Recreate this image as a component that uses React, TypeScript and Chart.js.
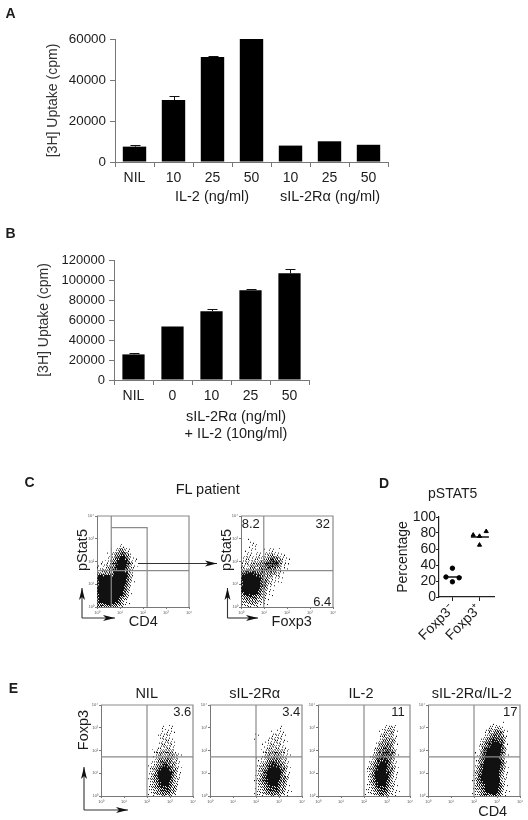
import React, { useEffect, useRef } from "react";
import { Chart, registerables } from "chart.js";

Chart.register(...registerables);
Chart.defaults.font.family = "'Liberation Sans', Arial, sans-serif";
Chart.defaults.color = "#222";

// ---- Panel A ----
const categoriesA = ["NIL", "10", "25", "50", "10", "25", "50"];
const meansA = [7500, 30200, 51200, 60000, 8000, 10100, 8400];
const upperA = [8400, 32000, 51800, 60000, 8000, 10100, 8400];
const ticksA = [0, 20000, 40000, 60000];

// ---- Panel B ----
const categoriesB = ["NIL", "0", "10", "25", "50"];
const meansB = [25600, 53500, 68800, 89800, 106700];
const upperB = [26900, 53500, 70800, 90800, 110700];
const ticksB = [0, 20000, 40000, 60000, 80000, 100000, 120000];

// ---- Panel D ----
const circlesDx = [0.76, 1, 1, 1.25];
const circlesDy = [25, 36, 19, 24];
const trianglesDx = [1.775, 2.01, 2.26, 2.01];
const trianglesDy = [77.5, 76, 82, 65];
const mediansD = [25, 75];
const categoriesD = ["Foxp3\u207B", "Foxp3\u207A"];

// ---- Density of events (0 none .. 9 solid) ----
const cloudGatedCD4 = [
  "", "", "", "", "", "", "",
  ".....11", "....1342", "...136741", "..1148962", ".112599721", "1123699731", "2234799731",
  "444589972", "999999972", "999999961", "999999961", "999999961", "999999841", "99999852",
  "89999631", "57886421",
];
const cloudGatedFoxp3 = [
  "", "", "", "", "", "",
  "..1", "..11...1", ".11.1.1111", ".1111122211", "122222355311", "122234578521", "223345677421",
  "33445566531", "68876554321", "9999854321", "9999964211", "999996321", "99998521", "79997421",
  "3566431", "2444321", "133321",
];
const cloudNil = [
  "", "", "", "", "",
  "...............111", "...............111", "..............1221", "..............1221",
  "..............12221", "..............12321", ".............123321", ".............1333331",
  ".............1344431", "............12466431", "............13688631", "............24799741",
  "............25899841", "............25899841", "............24799731", "............2468863",
  "............1357753", "............1345542",
];
const cloudSol = [
  "", "", "", "", "",
  ".................1", "...............1.11", "...........1...1221", "...........1..12221",
  ".............122221", ".............123321", ".............1233321", ".............1344321",
  "............12455421", "............13577531", "............24688641", "...........125899851",
  "...........136899851", "...........136899751", "...........135899741", "...........125788631",
  "...........124677531", "...........123555421",
];
const cloudIl2 = [
  "", "", "", "", "",
  "................1221", "................2331", "...............13331", "...............14441",
  "..............134541", "..............145641", "..............256651", ".............1366651",
  ".............2477651", ".............3688741", "............13699741", "............14799741",
  "............14899741", "............14899731", "............14799731", "............13688631",
  "............13577521", "............12466421",
];
const cloudBoth = [
  "", "", "", "",
  "...................1", "...............1221", "..............134531", "..............145651",
  ".............1367751", ".............2578871", ".............3689981", ".............4799971",
  "............15899971", "............15899961", "............26999961", "............37999951",
  "............47999951", "...........158999941", "...........158999941", "...........157999931",
  "...........147899931", "...........136899831", "...........125788721",
];

// ---- Quadrant gates, in decades of fluorescence ----
const gateCD4X = 0.62;
const gateCD4RectX = 2.18;
const gateCD4RectY = 3.49;
const gateCY = 1.6;
const gateFoxp3X = 0.99;
const gateEX = 2;
const gateEY = 1.72;

const INK = "#1c1c1c";
const AXIS = "#777";
const LOG_MAX = 4;
const CELLS = 23;
const CELL_PX = 4;

function densityAt(rows: string[], c: number, r: number) {
  if (r < 0 || c < 0 || r >= rows.length) return 0;
  const ch = rows[r][c];
  return ch === undefined || ch === "." ? 0 : Number(ch);
}

const frac = (v: number) => v - Math.floor(v);

// one small sprite of fine stipple per grid cell: a fixed dither texture shaded by the cell densities
function cellSprite(rows: string[], c: number, r: number) {
  const sprite = document.createElement("canvas");
  sprite.width = CELL_PX;
  sprite.height = CELL_PX;
  const g = sprite.getContext("2d")!;
  g.fillStyle = "#111";
  for (let j = 0; j < CELL_PX; j++) {
    for (let i = 0; i < CELL_PX; i++) {
      const u = (i + 0.5) / CELL_PX - 0.5;
      const v = (j + 0.5) / CELL_PX - 0.5;
      const c0 = c + Math.floor(u);
      const r0 = r + Math.floor(v);
      const fu = u - Math.floor(u);
      const fv = v - Math.floor(v);
      const d =
        densityAt(rows, c0, r0) * (1 - fu) * (1 - fv) +
        densityAt(rows, c0 + 1, r0) * fu * (1 - fv) +
        densityAt(rows, c0, r0 + 1) * (1 - fu) * fv +
        densityAt(rows, c0 + 1, r0 + 1) * fu * fv;
      const px = c * CELL_PX + i;
      const py = r * CELL_PX + j;
      const t = frac(52.9829189 * frac(0.06711056 * px + 0.00583715 * py));
      const on = d >= 8 ? 1 : Math.pow(d / 9, 1.05);
      if (t < on) g.fillRect(i, j, 1, 1);
    }
  }
  return sprite;
}

function cellsOf(rows: string[]) {
  const out: { x: number; y: number; sprite: HTMLCanvasElement }[] = [];
  for (let r = 0; r < CELLS; r++) {
    for (let c = 0; c < CELLS; c++) {
      let near = 0;
      for (let a = -1; a <= 1; a++) for (let b = -1; b <= 1; b++) near += densityAt(rows, c + a, r + b);
      if (near > 0) {
        out.push({
          x: ((c + 0.5) / CELLS) * LOG_MAX,
          y: LOG_MAX - ((r + 0.5) / CELLS) * LOG_MAX,
          sprite: cellSprite(rows, c, r),
        });
      }
    }
  }
  return out;
}

type Box = { left: number; top: number; width: number; height: number; pl: number; pt: number; pb: number; pr: number; soft?: boolean };

const errorBars = (upper: number[]) => ({
  id: "errorBars",
  afterDatasetsDraw(chart: any) {
    const { ctx, scales } = chart;
    ctx.save();
    ctx.strokeStyle = "#111";
    ctx.lineWidth = 1;
    upper.forEach((u, i) => {
      const mean = chart.data.datasets[0].data[i];
      if (u <= mean) return;
      const x = Math.round(scales.x.getPixelForValue(i)) + 0.5;
      const y0 = scales.y.getPixelForValue(mean);
      const y1 = Math.round(scales.y.getPixelForValue(u)) + 0.5;
      ctx.beginPath();
      ctx.moveTo(x, y0);
      ctx.lineTo(x, y1);
      ctx.moveTo(x - 5, y1);
      ctx.lineTo(x + 5, y1);
      ctx.stroke();
    });
    ctx.restore();
  },
});

function barConfig(labels: string[], means: number[], upper: number[], ticks: number[], barFrac: number, tickFont: number, box: Box) {
  return {
    type: "bar",
    data: {
      labels,
      datasets: [{ data: means, backgroundColor: "#000", barPercentage: barFrac, categoryPercentage: 1 }],
    },
    plugins: [errorBars(upper)],
    options: {
      animation: false,
      responsive: false,
      events: [],
      layout: { padding: { top: box.pt, right: box.pr, left: 0, bottom: 0 } },
      plugins: { legend: { display: false }, tooltip: { enabled: false } },
      scales: {
        x: {
          afterFit: (s: any) => { s.height = box.pb; },
          grid: { offset: true, drawOnChartArea: false, tickLength: 5, color: AXIS },
          border: { color: AXIS },
          ticks: { font: { size: 14 }, padding: 3, color: INK, maxRotation: 0, autoSkip: false },
        },
        y: {
          min: ticks[0],
          max: ticks[ticks.length - 1],
          afterFit: (s: any) => { s.width = box.pl; },
          grid: { drawOnChartArea: false, tickLength: 5, color: AXIS },
          border: { color: AXIS },
          title: { display: true, text: "[3H] Uptake (cpm)", font: { size: 14 }, color: "#333", padding: 0 },
          ticks: { font: { size: tickFont }, padding: 4, color: INK, stepSize: ticks[1] - ticks[0], autoSkip: false, callback: (v: any) => String(v) },
        },
      },
    },
  };
}

function dotConfig(rows: string[], gates: { x: number; y: number }[][], box: Box) {
  const sup = ["\u2070", "\u00B9", "\u00B2", "\u00B3", "\u2074"];
  const frame = [{ x: 0, y: LOG_MAX }, { x: LOG_MAX, y: LOG_MAX }, { x: LOG_MAX, y: 0 }];
  const tiny = {
    font: { size: 4 },
    color: "#555",
    padding: 1,
    stepSize: 1,
    autoSkip: false,
    maxRotation: 0,
    callback: (v: any) => "10" + sup[Number(v)],
  };
  return {
    type: "scatter",
    data: {
      datasets: [
        ...gates.map((g) => ({
          data: g,
          showLine: true,
          borderColor: "#8a8a8a",
          borderWidth: 1.2,
          pointRadius: 0,
          order: 1,
        })),
        {
          data: frame,
          showLine: true,
          borderColor: "#8a8a8a",
          borderWidth: 1.2,
          pointRadius: 0,
          order: 1,
          clip: false,
        },
        {
          data: cellsOf(rows),
          order: 2,
          pointRadius: 3,
          pointStyle: (c: any) => (c.raw ? c.raw.sprite : "rect"),
        },
      ],
    },
    options: {
      animation: false,
      responsive: false,
      events: [],
      layout: { padding: { top: box.pt, right: box.pr, left: 0, bottom: 0 } },
      plugins: { legend: { display: false }, tooltip: { enabled: false } },
      scales: {
        x: {
          type: "linear",
          min: 0,
          max: LOG_MAX,
          afterFit: (s: any) => { s.height = box.pb; },
          grid: { drawOnChartArea: false, tickLength: 2, color: AXIS },
          border: { color: AXIS },
          ticks: tiny,
        },
        y: {
          type: "linear",
          min: 0,
          max: LOG_MAX,
          afterFit: (s: any) => { s.width = box.pl; },
          grid: { drawOnChartArea: false, tickLength: 2, color: AXIS },
          border: { color: AXIS },
          ticks: tiny,
        },
      },
    },
  };
}

function percentConfig(box: Box) {
  const pts = (xs: number[], ys: number[]) => xs.map((x, i) => ({ x, y: ys[i] }));
  return {
    type: "scatter",
    data: {
      datasets: [
        { data: pts(circlesDx, circlesDy), pointStyle: "circle", pointRadius: 2.2, backgroundColor: "#000", borderColor: "#000" },
        { data: pts(trianglesDx, trianglesDy), pointStyle: "triangle", pointRadius: 2.4, backgroundColor: "#000", borderColor: "#000" },
        { data: [{ x: 0.71, y: mediansD[0] }, { x: 1.34, y: mediansD[0] }], showLine: true, pointRadius: 0, borderColor: "#000", borderWidth: 1.4 },
        { data: [{ x: 1.69, y: mediansD[1] }, { x: 2.36, y: mediansD[1] }], showLine: true, pointRadius: 0, borderColor: "#000", borderWidth: 1.4 },
      ],
    },
    options: {
      animation: false,
      responsive: false,
      events: [],
      layout: { padding: { top: box.pt, right: box.pr, left: 0, bottom: 0 } },
      plugins: { legend: { display: false }, tooltip: { enabled: false } },
      scales: {
        x: {
          type: "linear",
          min: 0.5,
          max: 2.55,
          afterFit: (s: any) => { s.height = box.pb; },
          afterBuildTicks: (s: any) => { s.ticks = [{ value: 1 }, { value: 2 }]; },
          grid: { drawOnChartArea: false, tickLength: 4, color: "#222" },
          border: { color: "#222", width: 1.2 },
          ticks: {
            font: { size: 14 },
            color: INK,
            padding: 0,
            autoSkip: false,
            minRotation: 45,
            maxRotation: 45,
            callback: (v: any) => categoriesD[Number(v) - 1],
          },
        },
        y: {
          min: 0,
          max: 100,
          afterFit: (s: any) => { s.width = box.pl; },
          grid: { drawOnChartArea: false, tickLength: 3, color: "#222" },
          border: { color: "#222", width: 1.2 },
          title: { display: true, text: "Percentage", font: { size: 14 }, color: INK, padding: 0 },
          ticks: { font: { size: 14 }, color: INK, padding: 0, stepSize: 20, autoSkip: false },
        },
      },
    },
  };
}

function Panel({ box, build }: { box: Box; build: (b: Box) => any }) {
  const ref = useRef<HTMLCanvasElement>(null);
  useEffect(() => {
    const chart = new Chart(ref.current!, build(box));
    return () => chart.destroy();
  }, []);
  return (
    <canvas
      ref={ref}
      width={box.width}
      height={box.height}
      style={{
        position: "absolute",
        left: box.left,
        top: box.top,
        width: box.width,
        height: box.height,
        filter: box.soft ? "blur(0.5px)" : undefined,
      }}
    />
  );
}

function dotBox(left: number, top: number): Box {
  return { left: left - 12, top: top - 4, width: 92 + 12 + 7, height: 92 + 4 + 10, pl: 12, pt: 4, pb: 10, pr: 7, soft: true };
}

const hLine = (y: number) => [{ x: 0, y }, { x: LOG_MAX, y }];
const vLine = (x: number) => [{ x, y: 0 }, { x, y: LOG_MAX }];

const dotPanels = [
  { at: [97, 515], rows: cloudGatedCD4, gates: [vLine(gateCD4X), hLine(gateCY), [{ x: gateCD4X, y: gateCD4RectY }, { x: gateCD4RectX, y: gateCD4RectY }, { x: gateCD4RectX, y: 0 }]] },
  { at: [241, 515], rows: cloudGatedFoxp3, gates: [vLine(gateFoxp3X), hLine(gateCY)] },
  { at: [101, 704], rows: cloudNil, gates: [vLine(gateEX), hLine(gateEY)] },
  { at: [210, 704], rows: cloudSol, gates: [vLine(gateEX), hLine(gateEY)] },
  { at: [318, 704], rows: cloudIl2, gates: [vLine(gateEX), hLine(gateEY)] },
  { at: [428, 704], rows: cloudBoth, gates: [vLine(gateEX), hLine(gateEY)] },
];

type Note = { t: string; x: number; y: number; size?: number; bold?: boolean; rot?: boolean };
const notes: Note[] = [
  { t: "A", x: 10.5, y: 13, size: 14, bold: true },
  { t: "B", x: 10.5, y: 233, size: 14, bold: true },
  { t: "C", x: 29.5, y: 482, size: 14, bold: true },
  { t: "D", x: 384, y: 482.5, size: 14, bold: true },
  { t: "E", x: 13.5, y: 688, size: 14, bold: true },
  { t: "IL-2 (ng/ml)", x: 212, y: 196 },
  { t: "sIL-2R\u03B1 (ng/ml)", x: 330, y: 196 },
  { t: "sIL-2R\u03B1 (ng/ml)", x: 236, y: 416 },
  { t: "+ IL-2 (10ng/ml)", x: 236, y: 433 },
  { t: "FL patient", x: 207.7, y: 489 },
  { t: "pSTAT5", x: 452.7, y: 493, size: 14 },
  { t: "pStat5", x: 82, y: 550, rot: true },
  { t: "pStat5", x: 226, y: 550, rot: true },
  { t: "CD4", x: 143.3, y: 620.7 },
  { t: "Foxp3", x: 291.7, y: 620.7 },
  { t: "8.2", x: 250.7, y: 522.7, size: 13 },
  { t: "32", x: 322.7, y: 522.7, size: 13 },
  { t: "6.4", x: 322.3, y: 600.7, size: 13 },
  { t: "NIL", x: 146.7, y: 693.3 },
  { t: "sIL-2R\u03B1", x: 254.7, y: 693.3 },
  { t: "IL-2", x: 361, y: 693.3 },
  { t: "sIL-2R\u03B1/IL-2", x: 471.7, y: 693.3 },
  { t: "3.6", x: 182.3, y: 711, size: 13 },
  { t: "3.4", x: 291.3, y: 711, size: 13 },
  { t: "11", x: 398, y: 711, size: 13 },
  { t: "17", x: 510.3, y: 711, size: 13 },
  { t: "Foxp3", x: 82.7, y: 730, rot: true },
  { t: "CD4", x: 492.7, y: 810.7 },
];

function Arrow({ x1, y1, x2, y2, head = 5 }: { x1: number; y1: number; x2: number; y2: number; head?: number }) {
  const horizontal = y1 === y2;
  const pts = horizontal
    ? `${x2},${y2} ${x2 - head * 2.4},${y2 - head * 0.6} ${x2 - head * 1.8},${y2} ${x2 - head * 2.4},${y2 + head * 0.6}`
    : `${x2},${y2} ${x2 - head * 0.6},${y2 + head * 2.4} ${x2},${y2 + head * 1.8} ${x2 + head * 0.6},${y2 + head * 2.4}`;
  return (
    <g>
      <line x1={x1} y1={y1} x2={x2} y2={y2} stroke="#333" strokeWidth={1.1} />
      <polygon points={pts} fill="#111" />
    </g>
  );
}

export default function App() {
  const boxA: Box = { left: 45, top: 25, width: 350, height: 160, pl: 70, pt: 14, pb: 23, pr: 7 };
  const boxB: Box = { left: 36, top: 245, width: 280, height: 160, pl: 78, pt: 15, pb: 25, pr: 7 };
  const boxD: Box = { left: 395, top: 505, width: 120, height: 135, pl: 44, pt: 12, pb: 43, pr: 21 };
  return (
    <div style={{ position: "absolute", left: 0, top: 0, width: 528, height: 820, background: "#fff", overflow: "hidden", fontFamily: "'Liberation Sans', Arial, sans-serif" }}>
      <Panel box={boxA} build={(b) => barConfig(categoriesA, meansA, upperA, ticksA, 0.6, 13.4, b)} />
      <Panel box={boxB} build={(b) => barConfig(categoriesB, meansB, upperB, ticksB, 0.57, 13, b)} />
      <Panel box={boxD} build={percentConfig} />
      {dotPanels.map((p, i) => (
        <Panel key={i} box={dotBox(p.at[0], p.at[1])} build={(b) => dotConfig(p.rows, p.gates, b)} />
      ))}
      <svg width={528} height={820} style={{ position: "absolute", left: 0, top: 0, pointerEvents: "none" }}>
        <Arrow x1={82} y1={618} x2={82} y2={588} />
        <Arrow x1={82} y1={618} x2={115} y2={618} />
        <Arrow x1={227.5} y1={618} x2={227.5} y2={588} />
        <Arrow x1={227.5} y1={618} x2={258} y2={618} />
        <Arrow x1={138} y1={563.5} x2={217} y2={563.5} />
        <Arrow x1={84} y1={810} x2={84} y2={767} />
        <Arrow x1={84} y1={810} x2={128} y2={810} />
      </svg>
      {notes.map((n, i) => (
        <div
          key={i}
          style={{
            position: "absolute",
            left: n.x,
            top: n.y,
            transform: `translate(-50%,-50%)${n.rot ? " rotate(-90deg)" : ""}`,
            fontSize: n.size ?? 14.5,
            fontWeight: n.bold ? 700 : 400,
            color: INK,
            whiteSpace: "nowrap",
            lineHeight: 1,
          }}
        >
          {n.t}
        </div>
      ))}
    </div>
  );
}
